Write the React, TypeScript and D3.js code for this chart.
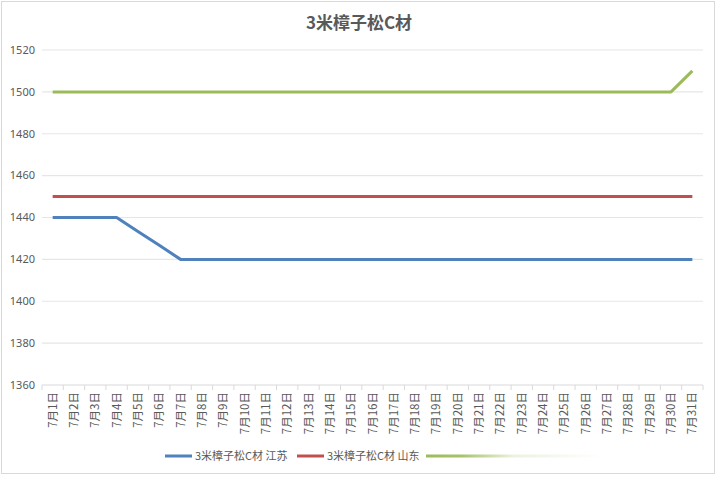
import React from "react";
import * as d3 from "d3";

const title = "3米樟子松C材";
const categories = Array.from({ length: 31 }, (_, i) => `7月${i + 1}日`);
const seriesNames = ["3米樟子松C材 江苏", "3米樟子松C材 山东", ""];
const jiangsu = [1440, 1440, 1440, 1440, 1433.3, 1426.7, 1420, 1420, 1420, 1420, 1420, 1420, 1420, 1420, 1420, 1420, 1420, 1420, 1420, 1420, 1420, 1420, 1420, 1420, 1420, 1420, 1420, 1420, 1420, 1420, 1420];
const shandong = [1450, 1450, 1450, 1450, 1450, 1450, 1450, 1450, 1450, 1450, 1450, 1450, 1450, 1450, 1450, 1450, 1450, 1450, 1450, 1450, 1450, 1450, 1450, 1450, 1450, 1450, 1450, 1450, 1450, 1450, 1450];
const third = [1500, 1500, 1500, 1500, 1500, 1500, 1500, 1500, 1500, 1500, 1500, 1500, 1500, 1500, 1500, 1500, 1500, 1500, 1500, 1500, 1500, 1500, 1500, 1500, 1500, 1500, 1500, 1500, 1500, 1500, 1510];
const yTicks = [1360, 1380, 1400, 1420, 1440, 1460, 1480, 1500, 1520];
const colors = ["#4f81bd", "#c0504d", "#9bbb59"];

export default function App() {
  const W = 719, H = 477;
  const left = 42, right = 703, top = 50, bottom = 385;
  const x = d3.scaleBand<string>().domain(categories).range([left, right]);
  const y = d3.scaleLinear().domain([1360, 1520]).range([bottom, top]);
  const line = d3.line<number>().x((_, i) => x(categories[i])! + x.bandwidth() / 2).y((d) => y(d));
  const all = [jiangsu, shandong, third];
  const gray = "#595959";
  const legendY = 456;
  const legendItems = [
    { x: 165, name: seriesNames[0], color: colors[0] },
    { x: 297, name: seriesNames[1], color: colors[1] },
  ];
  return (
    <svg width={W} height={H} style={{ position: "absolute", left: 0, top: 0 }} fontFamily="'Noto Sans', 'Noto Sans CJK SC', sans-serif">
      <defs>
        <linearGradient id="fade" gradientUnits="userSpaceOnUse" x1={426} x2={600} y1={0} y2={0}>
          <stop offset="0" stopColor={colors[2]} stopOpacity={1} />
          <stop offset="0.2" stopColor={colors[2]} stopOpacity={0.9} />
          <stop offset="0.5" stopColor={colors[2]} stopOpacity={0.2} />
          <stop offset="1" stopColor={colors[2]} stopOpacity={0} />
        </linearGradient>
      </defs>
      <rect x={0} y={0} width={W} height={H} fill="#fff" />
      <rect x={1.5} y={1.5} width={713} height={472} fill="none" stroke="#d9d9d9" />
      <text x={359} y={29} textAnchor="middle" fontSize={17} fontWeight="bold" fill={gray} fontFamily="'Noto Sans CJK SC', sans-serif">{title}</text>
      {yTicks.map((t) => (
        <g key={t}>
          {t !== 1360 && <line x1={left} x2={right} y1={y(t)} y2={y(t)} stroke="#e6e6e6" strokeWidth={1.2} />}
          <text x={35} y={y(t)} dy="0.35em" textAnchor="end" fontSize={11} fill={gray}>{t}</text>
        </g>
      ))}
      <line x1={left} x2={right} y1={bottom} y2={bottom} stroke="#d9d9d9" strokeWidth={1.2} />
      {categories.map((c, i) => (
        <line key={"t" + i} x1={x(c)!} x2={x(c)!} y1={bottom} y2={bottom + 5} stroke="#d9d9d9" />
      ))}
      <line x1={right} x2={right} y1={bottom} y2={bottom + 5} stroke="#d9d9d9" />
      {categories.map((c) => {
        const cx = x(c)! + x.bandwidth() / 2;
        return (
          <text key={c} transform={`translate(${cx},${bottom + 7}) rotate(-90)`} textAnchor="end" dy="0.35em" fontSize={11.5} fill={gray} fontFamily="'Noto Sans CJK SC', sans-serif">{c}</text>
        );
      })}
      {all.map((s, k) => (
        <path key={k} d={line(s)!} fill="none" stroke={colors[k]} strokeWidth={3} strokeLinejoin="round" />
      ))}
      {legendItems.map((it) => (
        <g key={it.name}>
          <line x1={it.x} x2={it.x + 27} y1={legendY} y2={legendY} stroke={it.color} strokeWidth={3} />
          <text x={it.x + 30} y={legendY} dy="0.35em" fontSize={11} fill={gray} fontFamily="'Noto Sans CJK SC', sans-serif">{it.name}</text>
        </g>
      ))}
      <line x1={426} x2={600} y1={legendY} y2={legendY} stroke="url(#fade)" strokeWidth={3} />
    </svg>
  );
}
